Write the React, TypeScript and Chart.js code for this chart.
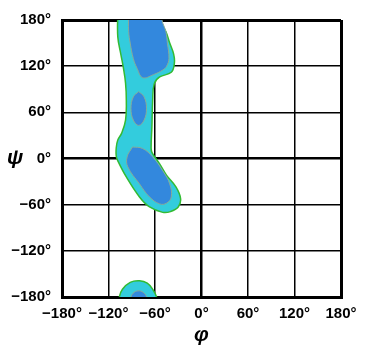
import React, { useEffect, useRef } from "react";
import { Chart, registerables } from "chart.js";

Chart.register(...registerables);

// Tick values (degrees)
const tickValues = [-180, -120, -60, 0, 60, 120, 180];

// Outer (allowed) region: [phi, psi]
const outerMainPhi = [-108, -54, -54, -46, -41, -36, -35, -39, -54, -61, -63, -64, -65, -64, -54, -45, -33, -27, -30, -40, -50, -67, -80, -97, -108, -110, -110, -108, -103, -98, -97, -98, -101, -104, -108, -108];
const outerMainPsi = [190, 190, 180, 165, 150, 136, 124, 112, 106, 97, 76, 41, 15, 8, -7, -22, -37, -52, -63, -69, -70, -63, -50, -24, -3, 3, 14, 24, 33, 50, 75, 98, 119, 135, 158, 190];

// Inner (favoured) regions
const innerTopPhi = [-94, -51, -51, -46, -44, -42, -45, -50, -62, -76, -83, -88, -92, -94, -94];
const innerTopPsi = [190, 190, 180, 165, 150, 130, 120, 115, 109, 105, 117, 130, 150, 165, 190];

const innerMidPhi = [-81, -74, -71, -74, -81, -88, -91, -88, -81];
const innerMidPsi = [87, 80, 65, 50, 43, 50, 65, 80, 87];

const innerLowPhi = [-89, -76, -63, -50, -41, -39, -45, -54, -67, -80, -95, -96, -89];
const innerLowPsi = [15, 13, 2, -16, -33, -50, -58, -59, -50, -33, -11, 2, 15];

const outerBotPhi = [-106, -106, -102, -92, -80, -70, -63, -58, -58, -106];
const outerBotPsi = [-190, -180, -170, -161, -159, -162, -170, -180, -190, -190];

const innerBotPhi = [-91, -91, -87, -80, -74, -71, -71, -91];
const innerBotPsi = [-190, -180, -174, -172, -175, -180, -190, -190];

const OUTER_FILL = "#33CCDD";
const OUTER_LINE = "#33BB33";
const INNER_FILL = "#3388DD";
const INNER_LINE = "#88AA99";

function pts(xs: number[], ys: number[]) {
  return xs.map((x, i) => ({ x, y: ys[i] }));
}

function fmt(v: number) {
  return (v < 0 ? "\u2212" + Math.abs(v) : String(v)) + "\u00B0";
}

export default function App() {
  const ref = useRef<HTMLCanvasElement | null>(null);

  useEffect(() => {
    document.body.style.margin = "0";
    const canvas = ref.current;
    if (!canvas) return;

    const region = (xs: number[], ys: number[], fill: string, line: string, bw: number, order: number) => ({
      data: pts(xs, ys),
      showLine: true,
      fill: "shape" as any,
      backgroundColor: fill,
      borderColor: line,
      borderWidth: bw,
      pointRadius: 0,
      tension: 0.4,
      order,
    });

    const psiLabel = {
      id: "psiLabel",
      afterDraw(chart: any) {
        const ys = chart.scales.y;
        const ctx = chart.ctx;
        ctx.save();
        ctx.font = "bold italic 21px 'Liberation Sans', Arial, sans-serif";
        ctx.fillStyle = "#000";
        ctx.textAlign = "center";
        ctx.textBaseline = "middle";
        ctx.fillText("\u03C8", 15, ys.getPixelForValue(0));
        ctx.restore();
      },
    };

    const gridWidth = (ctx: any) => {
      const v = ctx.tick ? ctx.tick.value : 0;
      if (v === 0) return 2.5;
      if (Math.abs(v) === 180) return 3;
      return 1.5;
    };

    const tickFont = { family: "'Liberation Sans', Arial, sans-serif", size: 15, weight: "bold" as const };

    const chart = new Chart(canvas, {
      type: "scatter",
      data: {
        datasets: [
          region(innerTopPhi, innerTopPsi, INNER_FILL, INNER_LINE, 1, 1),
          region(innerMidPhi, innerMidPsi, INNER_FILL, INNER_LINE, 1, 1),
          region(innerLowPhi, innerLowPsi, INNER_FILL, INNER_LINE, 1, 1),
          region(innerBotPhi, innerBotPsi, INNER_FILL, INNER_LINE, 1, 1),
          region(outerMainPhi, outerMainPsi, OUTER_FILL, OUTER_LINE, 1.5, 2),
          region(outerBotPhi, outerBotPsi, OUTER_FILL, OUTER_LINE, 1.5, 2),
        ] as any,
      },
      options: {
        responsive: false,
        animation: false,
        layout: { padding: { left: 0, top: 20, right: 34, bottom: 0 } },
        plugins: { legend: { display: false }, tooltip: { enabled: false } },
        scales: {
          x: {
            type: "linear",
            position: "bottom",
            min: -180,
            max: 180,
            z: 1,
            afterBuildTicks: (s: any) => {
              s.ticks = tickValues.map((v) => ({ value: v }));
            },
            afterFit: (s: any) => {
              s.height = 51;
            },
            ticks: {
              color: "#000",
              font: tickFont,
              padding: 8,
              maxRotation: 0,
              autoSkip: false,
              callback: (v: any) => fmt(Number(v)),
            },
            grid: { color: "#000", lineWidth: gridWidth, drawTicks: false },
            border: { display: true, color: "#000", width: 3 },
            title: {
              display: true,
              text: "\u03C6",
              color: "#000",
              font: { family: "'Liberation Sans', Arial, sans-serif", size: 21, weight: "bold", style: "italic" },
              padding: { top: 0, bottom: 0 },
            },
          },
          y: {
            type: "linear",
            min: -180,
            max: 180,
            z: 1,
            afterBuildTicks: (s: any) => {
              s.ticks = tickValues.map((v) => ({ value: v }));
            },
            afterFit: (s: any) => {
              s.width = 62;
            },
            ticks: {
              color: "#000",
              font: tickFont,
              padding: 11,
              autoSkip: false,
              callback: (v: any) => fmt(Number(v)),
            },
            grid: { color: "#000", lineWidth: gridWidth, drawTicks: false },
            border: { display: true, color: "#000", width: 3 },
          },
        },
      } as any,
      plugins: [psiLabel],
    });

    return () => chart.destroy();
  }, []);

  return (
    <div style={{ width: 375, height: 348 }}>
      <canvas ref={ref} width={375} height={348} />
    </div>
  );
}
